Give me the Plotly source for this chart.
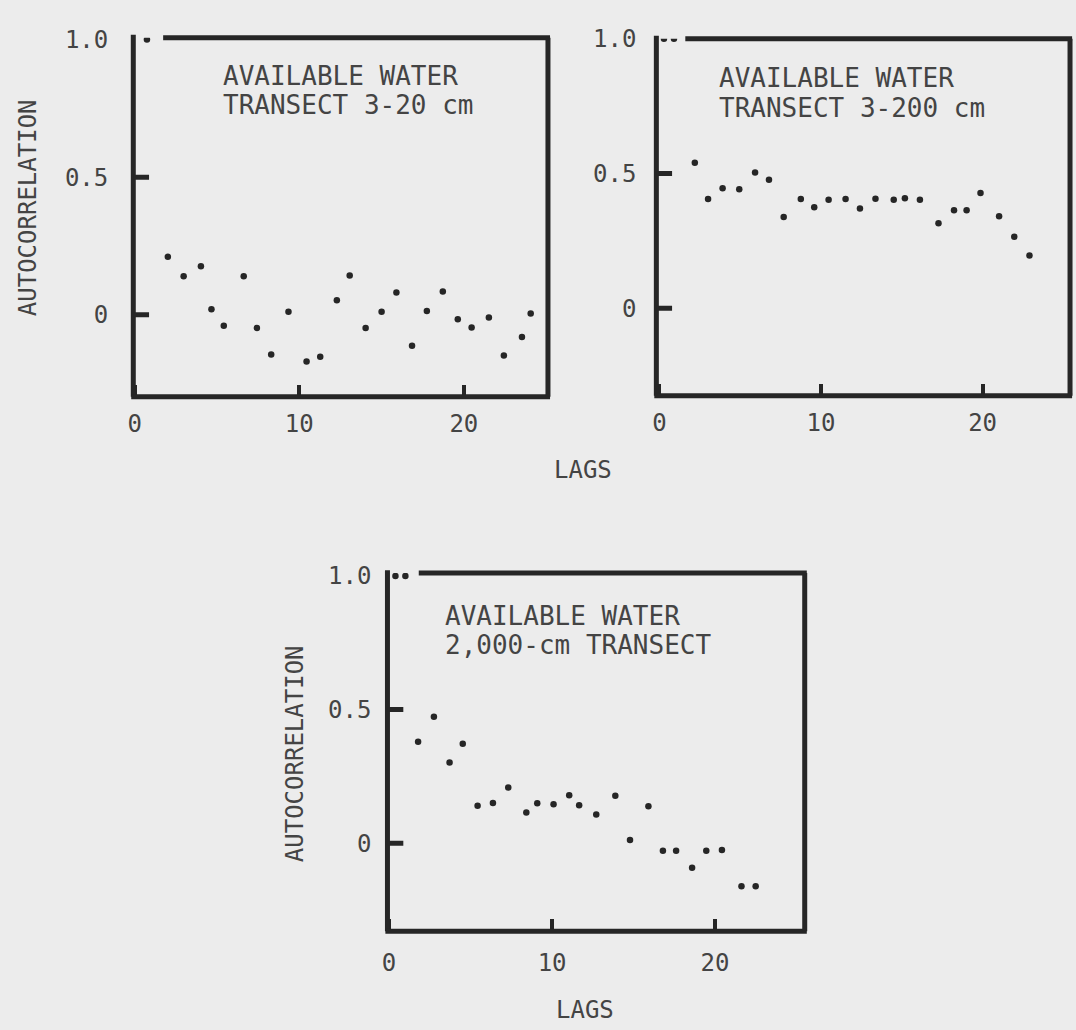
import plotly.graph_objects as go

# ---------------- data ----------------
lags_3_20 = [0.74, 2.01, 2.97, 4.02, 4.66, 5.41, 6.62, 7.42, 8.29, 9.34, 10.44, 11.27,
             12.28, 13.06, 14.03, 15.00, 15.90, 16.85, 17.75, 18.72, 19.63, 20.47,
             21.52, 22.43, 23.53, 24.06]
acf_3_20 = [1.0, 0.211, 0.140, 0.176, 0.020, -0.040, 0.140, -0.048, -0.144, 0.011,
            -0.170, -0.152, 0.053, 0.143, -0.048, 0.011, 0.081, -0.112, 0.014, 0.085,
            -0.016, -0.046, -0.010, -0.148, -0.081, 0.005]

lags_3_200 = [0.28, 0.90, 2.19, 3.01, 3.91, 4.94, 5.92, 6.78, 7.69, 8.75, 9.58, 10.47,
              11.52, 12.41, 13.37, 14.50, 15.19, 16.12, 17.27, 18.23, 19.01, 19.87,
              21.02, 21.96, 22.90]
acf_3_200 = [1.0, 1.0, 0.540, 0.405, 0.445, 0.441, 0.503, 0.476, 0.338, 0.405, 0.374,
             0.402, 0.405, 0.370, 0.406, 0.402, 0.408, 0.402, 0.315, 0.363, 0.363,
             0.427, 0.341, 0.265, 0.195]

lags_2000 = [0.39, 1.00, 1.78, 2.75, 3.71, 4.52, 5.43, 6.37, 7.31, 8.42, 9.09, 10.09,
             11.05, 11.66, 12.71, 13.88, 14.78, 15.91, 16.80, 17.61, 18.59, 19.46,
             20.42, 21.62, 22.49]
acf_2000 = [1.0, 1.0, 0.380, 0.473, 0.302, 0.372, 0.140, 0.150, 0.208, 0.115, 0.149,
            0.146, 0.179, 0.142, 0.107, 0.177, 0.012, 0.138, -0.028, -0.028, -0.092,
            -0.028, -0.026, -0.161, -0.161]

x_tick_vals = [0, 10, 20]
x_tick_text = ["0", "10", "20"]
y_tick_vals = [0, 0.5, 1.0]
y_tick_text = ["0", "0.5", "1.0"]

titles = [
    ["AVAILABLE WATER", "TRANSECT 3-20 cm"],
    ["AVAILABLE WATER", "TRANSECT 3-200 cm"],
    ["AVAILABLE WATER", "2,000-cm TRANSECT"],
]
y_title = "AUTOCORRELATION"
x_title = "LAGS"

# ---------------- styling ----------------
W, H = 1076, 1030
BG = "#ececec"
INK = "#262626"
TXT = "#444444"
FONT = "DejaVu Sans Mono"

def px(x):
    return x / W

def py(y):
    return 1 - y / H

# panel boxes in pixels: left, right, top, bottom ; axis ranges
panels = [
    dict(l=128, r=545, t=24, b=388, xr=[-0.09, 25.11], yr=[-0.2975, 1.0065],
         top_start=0.072, ystand=24, xstand=10),
    dict(l=654, r=1070, t=25, b=387, xr=[-0.19, 25.41], yr=[-0.325, 1.0],
         top_start=0.070, ystand=19, xstand=10),
    dict(l=383.6, r=803.2, t=566.7, b=930, xr=[-0.10, 25.50], yr=[-0.330, 1.011],
         top_start=0.075, ystand=15, xstand=15),
]
series = [(lags_3_20, acf_3_20), (lags_3_200, acf_3_200), (lags_2000, acf_2000)]

fig = go.Figure()
layout = dict(
    width=W, height=H,
    margin=dict(l=0, r=0, t=0, b=0),
    paper_bgcolor=BG, plot_bgcolor=BG,
    showlegend=False,
    font=dict(family=FONT, color=TXT, size=24),
)
shapes = []
annotations = []

for i, (p, (xs, ys)) in enumerate(zip(panels, series), start=1):
    sfx = "" if i == 1 else str(i)
    fig.add_trace(go.Scatter(
        x=xs, y=ys, mode="markers",
        marker=dict(size=6.5, color=INK),
        xaxis="x" + sfx, yaxis="y" + sfx, hoverinfo="skip",
    ))
    layout["xaxis" + sfx] = dict(
        domain=[px(p["l"]), px(p["r"])], range=p["xr"], anchor="y" + sfx,
        showgrid=False, zeroline=False, showline=False,
        tickmode="array", tickvals=x_tick_vals, ticktext=x_tick_text,
        ticks="inside", ticklen=12, tickwidth=4, tickcolor=INK,
        ticklabelstandoff=p["xstand"],
        tickfont=dict(family=FONT, size=24, color=TXT),
    )
    layout["yaxis" + sfx] = dict(
        domain=[py(p["b"]), py(p["t"])], range=p["yr"], anchor="x" + sfx,
        showgrid=False, zeroline=False, showline=False,
        tickmode="array", tickvals=y_tick_vals, ticktext=y_tick_text,
        ticks="",
        ticklabelstandoff=p["ystand"],
        tickfont=dict(family=FONT, size=24, color=TXT),
    )
    xref = "x" + sfx + " domain"
    yref = "y" + sfx + " domain"
    yref_data = "y" + sfx
    line = dict(color=INK, width=5)
    shapes += [
        dict(type="line", xref=xref, yref=yref, x0=0, x1=0, y0=0, y1=1.008, line=line),
        dict(type="line", xref=xref, yref=yref, x0=-0.005, x1=1.005, y0=0, y1=0, line=line),
        dict(type="line", xref=xref, yref=yref, x0=1, x1=1, y0=0, y1=1, line=line),
        dict(type="line", xref=xref, yref=yref, x0=p["top_start"], x1=1.005, y0=1, y1=1, line=line),
    ]
    # inward y tick marks (the 1.0 tick is the box corner itself)
    for tv in y_tick_vals:
        if tv >= 1.0:
            continue
        shapes.append(dict(type="line", xref=xref, yref=yref_data, x0=0, x1=0.038,
                           y0=tv, y1=tv, line=dict(color=INK, width=5)))

# panel inscriptions (two lines each): left x, cap-centre y for each line
title_pos = [(216.7, 62.5, 92.5), (715, 64.5, 95.5), (439, 610, 640)]
for (lines, (lx, y1, y2)) in zip(titles, title_pos):
    for txt, yy in zip(lines, (y1, y2)):
        annotations.append(dict(
            text=txt, x=px(lx), y=py(yy), xref="paper", yref="paper",
            xanchor="left", yanchor="middle", showarrow=False,
            font=dict(family=FONT, size=26, color=TXT),
        ))

# axis titles
for (cx, cy) in [(22, 196), (290, 750)]:
    annotations.append(dict(
        text=y_title, x=px(cx), y=py(cy), xref="paper", yref="paper",
        xanchor="center", yanchor="middle", textangle=-90, showarrow=False,
        font=dict(family=FONT, size=24, color=TXT),
    ))
for (cx, cy) in [(580, 462), (582, 1010)]:
    annotations.append(dict(
        text=x_title, x=px(cx), y=py(cy), xref="paper", yref="paper",
        xanchor="center", yanchor="middle", showarrow=False,
        font=dict(family=FONT, size=24, color=TXT),
    ))

layout["shapes"] = shapes
layout["annotations"] = annotations
fig.update_layout(**layout)
fig.write_html("out.html")
